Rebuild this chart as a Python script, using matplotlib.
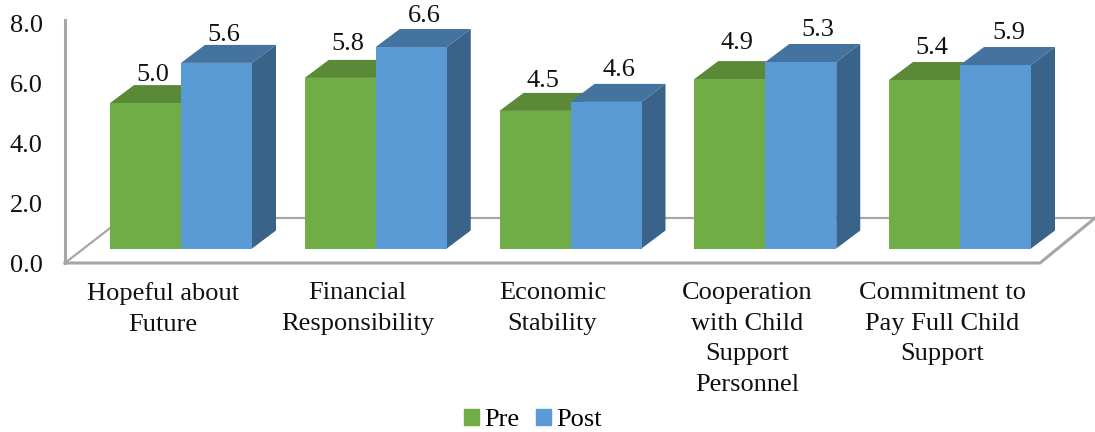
import numpy as np
import matplotlib
matplotlib.use('Agg')
import matplotlib.pyplot as plt
from matplotlib.patches import Polygon, Patch

plt.rcParams['font.family'] = ['Liberation Serif', 'DejaVu Serif']

categories = ['Hopeful about\nFuture', 'Financial\nResponsibility', 'Economic\nStability',
              'Cooperation\nwith Child\nSupport\nPersonnel', 'Commitment to\nPay Full Child\nSupport']
pre_labels = [5.0, 5.8, 4.5, 4.9, 5.4]
post_labels = [5.6, 6.6, 4.6, 5.3, 5.9]
# the 3D bars in the picture do not follow their labels, so tops are read off the axis
pre_tops = [5.33, 6.17, 5.07, 6.13, 6.10]
post_tops = [6.67, 7.20, 5.37, 6.70, 6.60]
yticks = [0, 2, 4, 6, 8]

GREEN, GREEN_TOP = '#70AD47', '#5A8A38'
BLUE, BLUE_TOP, BLUE_SIDE = '#5B9BD5', '#44739F', '#3A6389'
GRAY = '#A6A6A6'

W, H = 1095, 432
fig = plt.figure(figsize=(W / 100, H / 100), dpi=100)
ax = fig.add_axes([65 / W, (H - 263) / H, (W - 65) / W, 243 / H])

px_x = 1 / 194.75  # data units per pixel
px_y = 1 / 30
ax.set_xlim((65 - 181) * px_x, (W - 181) * px_x)
ax.set_ylim(0, 243 * px_y)

floor = 14.5 * px_y
width = 71 * px_x
dx, dy = 24 * px_x, 18 * px_y
x = np.arange(len(categories))

# floor of the 3D box
back_y = 45 * px_y
left, right = ax.get_xlim()
ax.plot([left, left + 58 * px_x, right], [0, back_y, back_y], color=GRAY, lw=1.6, clip_on=False, zorder=1)
ax.plot([left, (1040 - 181) * px_x, right], [0, 0, back_y], color=GRAY, lw=2.2, clip_on=False, zorder=1)
ax.plot([left, left], [0, 243 * px_y], color=GRAY, lw=2.2, clip_on=False, zorder=1)

for i in x:
    # pre top, hidden in part by the post bar
    xl, t = i - width, pre_tops[i]
    ax.add_patch(Polygon([(xl, t), (xl + dx, t + dy), (xl + width + dx, t + dy), (xl + width, t)],
                         color=GREEN_TOP, lw=0, zorder=2))
    # post top and side
    xl, t = i, post_tops[i]
    ax.add_patch(Polygon([(xl, t), (xl + dx, t + dy), (xl + width + dx, t + dy), (xl + width, t)],
                         color=BLUE_TOP, lw=0, zorder=3))
    ax.add_patch(Polygon([(xl + width, floor), (xl + width + dx, floor + dy), (xl + width + dx, t + dy), (xl + width, t)],
                         color=BLUE_SIDE, lw=0, zorder=3))

pre_bars = ax.bar(x - width / 2, np.array(pre_tops) - floor, width, bottom=floor, color=GREEN, zorder=4)
post_bars = ax.bar(x + width / 2, np.array(post_tops) - floor, width, bottom=floor, color=BLUE, zorder=4)

# label nudges in points, the labels sit a bit unevenly in the picture
pre_nudge = [(0, 0), (0, 4), (0, 1), (0, 6), (0, 3)]
post_nudge = [(0, 0), (4, 2), (4, 3), (7, 3), (4, 3)]
for xs, tops, labels, nudge in [(x - width / 2, pre_tops, pre_labels, pre_nudge),
                                (x + width / 2, post_tops, post_labels, post_nudge)]:
    for a, t, v, n in zip(xs, tops, labels, nudge):
        ax.annotate('%.1f' % v, (a, t), xytext=(5.4 + n[0], 16 + n[1]), textcoords='offset points',
                    ha='center', va='baseline', fontsize=19, color='#111111', zorder=5)

for s in ax.spines.values():
    s.set_visible(False)
ax.set_yticks(yticks)
ax.set_yticklabels(['%.1f' % v for v in yticks], fontsize=19, color='#111111')
ax.set_xticks(x - 18 * px_x)
ax.set_xticklabels(categories, fontsize=19, color='#111111', linespacing=1.5)
ax.tick_params(length=0)
ax.tick_params(axis='y', pad=16)
ax.tick_params(axis='x', pad=14)

fig.legend(handles=[Patch(color=GREEN, label='Pre'), Patch(color=BLUE, label='Post')],
           ncol=2, loc='center', bbox_to_anchor=(533 / W, (H - 420) / H), frameon=False, fontsize=19,
           handlelength=0.55, handleheight=0.55, handletextpad=0.2, columnspacing=0.65,
           borderpad=0, borderaxespad=0)

fig.savefig('out.png', dpi=100)
